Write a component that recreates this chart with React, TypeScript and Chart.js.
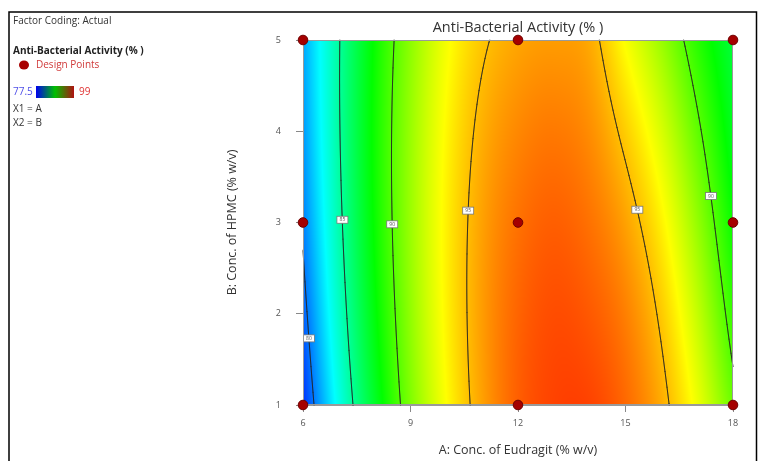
import { useEffect, useRef } from "react";
import { Chart, registerables } from "chart.js";

Chart.register(...registerables);

// ---- data ----
const A_VALUES = [6, 7, 8, 9, 10, 11, 12, 13, 14, 15, 16, 17, 18]; // A: Conc. of Eudragit (% w/v)
const B_VALUES = [1, 3, 5]; // B: Conc. of HPMC (% w/v)
const ACTIVITY_AT_B1 = [78.5, 83.3, 87.4, 90.9, 93.6, 95.6, 97.0, 97.6, 97.6, 96.8, 95.4, 93.3, 90.5];
const ACTIVITY_AT_B3 = [80.2, 84.6, 88.4, 91.5, 93.9, 95.6, 96.6, 97.0, 96.6, 95.6, 93.9, 91.4, 88.4];
const ACTIVITY_AT_B5 = [81.0, 84.9, 88.4, 91.2, 93.4, 94.8, 95.5, 95.7, 95.4, 93.5, 91.5, 89.1, 87.0];
const CONTOUR_LEVELS = [80, 85, 90, 95];
const DESIGN_A = [6, 6, 6, 12, 12, 12, 18, 18, 18];
const DESIGN_B = [1, 3, 5, 1, 3, 5, 1, 3, 5];
const X_TICKS = [6, 9, 12, 15, 18];
const Y_TICKS = [1, 2, 3, 4, 5];
const COLOR_MIN = 77.5;
const COLOR_MAX = 99;

const TITLE = "Anti-Bacterial Activity (% )";
const X_TITLE = "A: Conc. of Eudragit (% w/v)";
const Y_TITLE = "B: Conc. of HPMC (% w/v)";

const FONT = '"Open Sans", "Noto Sans", sans-serif';

const ROWS = [ACTIVITY_AT_B1, ACTIVITY_AT_B3, ACTIVITY_AT_B5];

function rowValue(row: number[], a: number) {
  const n = A_VALUES.length;
  const h = A_VALUES[1] - A_VALUES[0];
  const f = (a - A_VALUES[0]) / h;
  let i = Math.floor(f);
  if (i < 0) i = 0;
  if (i > n - 2) i = n - 2;
  const t = f - i;
  const p1 = row[i];
  const p2 = row[i + 1];
  const p0 = i > 0 ? row[i - 1] : 2 * p1 - p2;
  const p3 = i + 2 < n ? row[i + 2] : 2 * p2 - p1;
  return 0.5 * (2 * p1 + (-p0 + p2) * t + (2 * p0 - 5 * p1 + 4 * p2 - p3) * t * t + (-p0 + 3 * p1 - 3 * p2 + p3) * t * t * t);
}

function surface(a: number, b: number) {
  const v = ROWS.map((r) => rowValue(r, a));
  const [y0, y1, y2] = B_VALUES;
  const L0 = ((b - y1) * (b - y2)) / ((y0 - y1) * (y0 - y2));
  const L1 = ((b - y0) * (b - y2)) / ((y1 - y0) * (y1 - y2));
  const L2 = ((b - y0) * (b - y1)) / ((y2 - y0) * (y2 - y1));
  return v[0] * L0 + v[1] * L1 + v[2] * L2;
}

const STOPS: number[][] = [
  [0, 0, 0, 255],
  [0.25, 0, 255, 255],
  [0.5, 0, 255, 0],
  [0.75, 255, 255, 0],
  [1, 255, 0, 0],
];

function colorFor(v: number): [number, number, number] {
  let t = (v - COLOR_MIN) / (COLOR_MAX - COLOR_MIN);
  t = Math.max(0, Math.min(1, t));
  for (let k = 0; k < STOPS.length - 1; k++) {
    const s0 = STOPS[k];
    const s1 = STOPS[k + 1];
    if (t <= s1[0]) {
      const u = (t - s0[0]) / (s1[0] - s0[0]);
      return [s0[1] + (s1[1] - s0[1]) * u, s0[2] + (s1[2] - s0[2]) * u, s0[3] + (s1[3] - s0[3]) * u];
    }
  }
  return [255, 0, 0];
}

const LABEL_SPOTS = [
  { level: 80, b: 1.73, k: 0 },
  { level: 85, b: 3.03, k: 0 },
  { level: 90, b: 2.98, k: 0 },
  { level: 95, b: 3.13, k: 0 },
  { level: 95, b: 3.14, k: 1 },
  { level: 90, b: 3.29, k: 1 },
];

const contourPlugin = {
  id: "contourSurface",
  beforeDatasetsDraw(chart: any) {
    const { ctx, chartArea, scales } = chart;
    const xs = scales.x;
    const ys = scales.y;
    const left = Math.round(chartArea.left);
    const top = Math.round(chartArea.top);
    const right = Math.round(chartArea.right);
    const bottom = Math.round(chartArea.bottom);
    const w = right - left;
    const h = bottom - top;

    // filled surface
    const off = document.createElement("canvas");
    off.width = w;
    off.height = h;
    const octx = off.getContext("2d")!;
    const img = octx.createImageData(w, h);
    for (let py = 0; py < h; py++) {
      const bv = ys.getValueForPixel(top + py + 0.5);
      for (let px = 0; px < w; px++) {
        const av = xs.getValueForPixel(left + px + 0.5);
        const c = colorFor(surface(av, bv));
        const idx = (py * w + px) * 4;
        img.data[idx] = c[0];
        img.data[idx + 1] = c[1];
        img.data[idx + 2] = c[2];
        img.data[idx + 3] = 255;
      }
    }
    octx.putImageData(img, 0, 0);
    ctx.save();
    ctx.drawImage(off, left, top);

    // contour lines (marching squares)
    const step = 2;
    const nx = Math.ceil(w / step) + 1;
    const ny = Math.ceil(h / step) + 1;
    const gx: number[] = [];
    const gy: number[] = [];
    for (let i = 0; i < nx; i++) gx.push(Math.min(left + i * step, right));
    for (let j = 0; j < ny; j++) gy.push(Math.min(top + j * step, bottom));
    const grid = new Float64Array(nx * ny);
    for (let j = 0; j < ny; j++) {
      const bv = ys.getValueForPixel(gy[j]);
      for (let i = 0; i < nx; i++) grid[j * nx + i] = surface(xs.getValueForPixel(gx[i]), bv);
    }
    ctx.strokeStyle = "rgba(35,35,35,0.85)";
    ctx.lineWidth = 1;
    ctx.lineCap = "round";
    for (const level of CONTOUR_LEVELS) {
      ctx.beginPath();
      for (let j = 0; j < ny - 1; j++) {
        for (let i = 0; i < nx - 1; i++) {
          const v00 = grid[j * nx + i];
          const v10 = grid[j * nx + i + 1];
          const v01 = grid[(j + 1) * nx + i];
          const v11 = grid[(j + 1) * nx + i + 1];
          const pts: number[][] = [];
          const edge = (va: number, vb: number, xa: number, ya: number, xb: number, yb: number) => {
            if ((va >= level) !== (vb >= level)) {
              const u = (level - va) / (vb - va);
              pts.push([xa + (xb - xa) * u, ya + (yb - ya) * u]);
            }
          };
          const x0 = gx[i], x1 = gx[i + 1], y0 = gy[j], y1 = gy[j + 1];
          edge(v00, v10, x0, y0, x1, y0);
          edge(v10, v11, x1, y0, x1, y1);
          edge(v01, v11, x0, y1, x1, y1);
          edge(v00, v01, x0, y0, x0, y1);
          for (let p = 0; p + 1 < pts.length; p += 2) {
            ctx.moveTo(pts[p][0], pts[p][1]);
            ctx.lineTo(pts[p + 1][0], pts[p + 1][1]);
          }
        }
      }
      ctx.stroke();
    }

    // contour labels
    for (const spot of LABEL_SPOTS) {
      const crossings: number[] = [];
      let prev = surface(A_VALUES[0], spot.b);
      for (let a = A_VALUES[0] + 0.005; a <= A_VALUES[A_VALUES.length - 1]; a += 0.005) {
        const cur = surface(a, spot.b);
        if ((prev >= spot.level) !== (cur >= spot.level)) crossings.push(a);
        prev = cur;
      }
      const a = crossings[spot.k];
      if (a === undefined) continue;
      const px = xs.getPixelForValue(a);
      const py = ys.getPixelForValue(spot.b);
      ctx.fillStyle = "#ffffff";
      ctx.strokeStyle = "#777777";
      ctx.lineWidth = 0.8;
      ctx.fillRect(px - 5.5, py - 3.5, 11, 7);
      ctx.strokeRect(px - 5.5, py - 3.5, 11, 7);
      ctx.fillStyle = "#555555";
      ctx.font = `5px ${FONT}`;
      ctx.textAlign = "center";
      ctx.textBaseline = "middle";
      ctx.fillText(String(spot.level), px, py + 0.3);
    }

    // plot border
    ctx.strokeStyle = "#9a9a9a";
    ctx.lineWidth = 1;
    ctx.strokeRect(left + 0.5, top + 0.5, w - 1, h - 1);
    ctx.restore();
  },
  afterDraw(chart: any) {
    const { ctx, chartArea } = chart;
    ctx.save();
    // outer frame
    ctx.strokeStyle = "#000";
    ctx.lineWidth = 1.5;
    ctx.beginPath();
    ctx.moveTo(9, 470);
    ctx.lineTo(9, 12);
    ctx.lineTo(756.5, 12);
    ctx.lineTo(756.5, 470);
    ctx.stroke();

    // title
    const cx = (chartArea.left + chartArea.right) / 2;
    ctx.fillStyle = "#333";
    ctx.textAlign = "center";
    ctx.textBaseline = "middle";
    ctx.font = `14.5px ${FONT}`;
    ctx.fillText(TITLE, cx, 28);

    // axis titles
    ctx.font = `12.5px ${FONT}`;
    ctx.fillStyle = "#333";
    ctx.fillText(X_TITLE, cx, 450);
    ctx.save();
    ctx.translate(232, (chartArea.top + chartArea.bottom) / 2);
    ctx.rotate(-Math.PI / 2);
    ctx.fillText(Y_TITLE, 0, 0);
    ctx.restore();

    // left info panel
    ctx.textAlign = "left";
    ctx.font = `10px ${FONT}`;
    ctx.fillStyle = "#333";
    ctx.fillText("Factor Coding: Actual", 13, 21);
    ctx.font = `bold 10px ${FONT}`;
    ctx.fillStyle = "#222";
    ctx.fillText("Anti-Bacterial Activity (% )", 13, 51);
    ctx.fillStyle = "#a80000";
    ctx.beginPath();
    ctx.ellipse(24, 65, 5, 4.5, 0, 0, Math.PI * 2);
    ctx.fill();
    ctx.font = `10px ${FONT}`;
    ctx.fillStyle = "#d03a3a";
    ctx.fillText("Design Points", 36, 65.5);
    ctx.fillStyle = "#4f4fe8";
    ctx.fillText(String(COLOR_MIN), 13, 92);
    const grad = ctx.createLinearGradient(36, 0, 74, 0);
    grad.addColorStop(0, "#0000f0");
    grad.addColorStop(0.5, "#00c000");
    grad.addColorStop(1, "#b01010");
    ctx.fillStyle = grad;
    ctx.fillRect(36, 86, 38, 12);
    ctx.fillStyle = "#e03434";
    ctx.fillText(String(COLOR_MAX), 79, 92);
    ctx.fillStyle = "#333";
    ctx.fillText("X1 = A", 13, 109);
    ctx.fillText("X2 = B", 13, 123);
    ctx.restore();
  },
};

export default function App() {
  const ref = useRef<HTMLCanvasElement | null>(null);
  useEffect(() => {
    if (!ref.current) return;
    const points = DESIGN_A.map((a, i) => ({ x: a, y: DESIGN_B[i] }));
    const chart = new Chart(ref.current, {
      type: "scatter",
      data: {
        datasets: [
          {
            label: "Design Points",
            data: points,
            backgroundColor: "#a50000",
            borderColor: "#6e0000",
            borderWidth: 1,
            pointRadius: 4.8,
            clip: false as any,
          },
        ],
      },
      options: {
        responsive: false,
        animation: false,
        events: [],
        layout: { padding: { left: 0, top: 40, right: 25, bottom: 0 } },
        plugins: { legend: { display: false }, tooltip: { enabled: false }, title: { display: false } },
        scales: {
          x: {
            type: "linear",
            min: 6,
            max: 18,
            afterBuildTicks: (s: any) => {
              s.ticks = X_TICKS.map((v) => ({ value: v }));
            },
            afterFit: (s: any) => {
              s.height = 56;
            },
            ticks: { font: { size: 9, family: FONT }, color: "#555", padding: 6, maxRotation: 0 },
            grid: { drawOnChartArea: false, drawTicks: true, tickLength: 7, color: "#888" },
            border: { display: true, color: "#999" },
          },
          y: {
            type: "linear",
            min: 1,
            max: 5,
            afterBuildTicks: (s: any) => {
              s.ticks = Y_TICKS.map((v) => ({ value: v }));
            },
            afterFit: (s: any) => {
              s.width = 303;
            },
            ticks: { font: { size: 9, family: FONT }, color: "#555", padding: 15 },
            grid: { drawOnChartArea: false, drawTicks: true, tickLength: 7, color: "#888" },
            border: { display: true, color: "#999" },
          },
        },
      },
      plugins: [contourPlugin],
    });
    return () => chart.destroy();
  }, []);
  return (
    <div style={{ position: "absolute", left: 0, top: 0, width: 758, height: 461, background: "#fff" }}>
      <canvas ref={ref} width={758} height={461} style={{ width: 758, height: 461, display: "block" }} />
    </div>
  );
}
